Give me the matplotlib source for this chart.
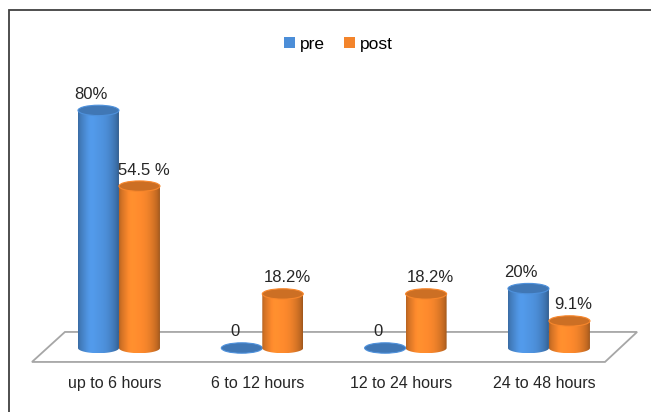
import numpy as np
import matplotlib
matplotlib.use('Agg')
import matplotlib.pyplot as plt
from matplotlib.patches import Polygon, Ellipse, Rectangle, Patch

plt.rcParams['font.family'] = ['Liberation Sans', 'DejaVu Sans']

# 数据
categories = ['up to 6 hours', '6 to 12 hours', '12 to 24 hours', '24 to 48 hours']
pre = [80, 0, 0, 20]
post = [54.5, 18.2, 18.2, 9.1]
pre_labels = ['80%', '0', '0', '20%']
post_labels = ['54.5 %', '18.2%', '18.2%', '9.1%']

blue = np.array([0x4c, 0x8e, 0xd8]) / 255
orange = np.array([0xf3, 0x84, 0x2b]) / 255


def draw_cyl(ax, x0, w, h, base, b, z):
    # 圆柱体：渐变的柱身 + 顶部椭圆
    cx = x0 + w / 2
    if h > 0:
        th = np.linspace(np.pi, 2 * np.pi, 60)
        xs = cx + (w / 2) * np.cos(th)
        ys = b * np.sin(th)
        verts = [(x0, h)] + list(zip(xs, ys)) + [(x0 + w, h)]
        body = Polygon(verts, closed=True, facecolor='none', edgecolor='none', zorder=z)
        ax.add_patch(body)
        t = np.linspace(0, 1, 80)
        shade = 0.74 + 0.36 * np.sin(np.pi * t) ** 0.6 - 0.1 * t
        shade = shade + 0.06 * np.exp(-((t - 0.3) / 0.12) ** 2)
        img = np.clip(base[None, None, :] * shade[None, :, None], 0, 1)
        im = ax.imshow(img, extent=[x0, x0 + w, -b, h], aspect='auto',
                       interpolation='bicubic', zorder=z)
        im.set_clip_path(body)
    top = np.clip(base * 0.84, 0, 1)
    rim = np.clip(base * 1.02, 0, 1)
    ax.add_patch(Ellipse((cx, h), w, 2 * b, facecolor=top, edgecolor=rim,
                         lw=0.8, zorder=z + 0.5))


fig = plt.figure(figsize=(6.51, 4.12), dpi=100)
ax = fig.add_axes([0, 0, 1, 1])
ax.axis('off')

w = 0.286
b = 1.75

# 底面
floor = Polygon([(-0.377, 5.4), (3.615, 5.4), (3.391, -4.7), (-0.607, -4.7)],
                closed=True, facecolor='white', edgecolor='#a6a6a6', lw=1.3, zorder=1)
ax.add_patch(floor)

for i in range(len(categories)):
    draw_cyl(ax, i - w, w, pre[i], blue, b, 3)
    draw_cyl(ax, i, w, post[i], orange, b, 4)
    ax.text(i - w / 2 - 0.05, pre[i] + 5.4, pre_labels[i], ha='center', va='center',
            fontsize=12, color='#262626', zorder=6)
    ax.text(i + w / 2 + 0.03, post[i] + 5.4, post_labels[i], ha='center', va='center',
            fontsize=12, color='#262626', zorder=6)
    ax.text(i - 0.03, -11.8, categories[i], ha='center', va='center', fontsize=11.5,
            color='#262626')

ax.set_xlim(-0.830, 3.712)
ax.set_ylim(-21.55, 117.17)

handles = [Patch(facecolor=blue, edgecolor='none'), Patch(facecolor=orange, edgecolor='none')]
fig.legend(handles, ['pre', 'post'], loc='center', bbox_to_anchor=(0.52, 0.893),
           ncol=2, frameon=False, fontsize=12.5, handlelength=0.6, handleheight=0.6,
           handletextpad=0.3, columnspacing=1.1)

fig.patches.append(Rectangle((9 / 651, -0.1), 1.2, 1.1 - 10 / 412, transform=fig.transFigure,
                             facecolor='none', edgecolor='#404040', lw=1.3))

fig.savefig('out.png', dpi=100)
